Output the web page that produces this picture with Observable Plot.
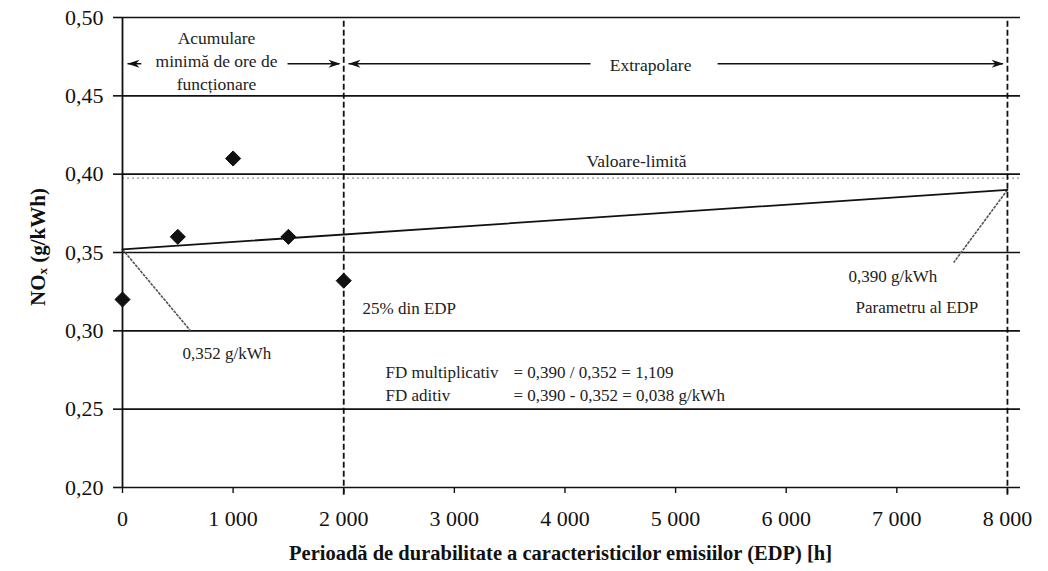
<!DOCTYPE html>
<html>
<head>
<meta charset="utf-8">
<script src="https://cdn.jsdelivr.net/npm/d3@7"></script>
<script src="https://cdn.jsdelivr.net/npm/@observablehq/plot@0.6"></script>
<style>
  html, body { margin: 0; padding: 0; background: #fff; }
  #chart svg { display: block; }
</style>
</head>
<body>
<div id="chart"></div>
<script>
// ---- data ----
const hours = [0, 500, 1000, 1500, 2000];
const nox = [0.32, 0.36, 0.41, 0.36, 0.332];
const fitHours = [0, 8000];
const fitNox = [0.352, 0.390];
const limitValue = 0.3975;
const markerHours = [2000, 8000];
const yTicks = [0.20, 0.25, 0.30, 0.35, 0.40, 0.45, 0.50];
const xTicks = [0, 1000, 2000, 3000, 4000, 5000, 6000, 7000, 8000];
const xTitle = "Perioadă de durabilitate a caracteristicilor emisiilor (EDP) [h]";

// annotation texts (data coordinates)
const notes = [
  {x: 850, y: 0.4732, text: "Acumulare\nminimă de ore de\nfuncționare", anchor: "middle"},
  {x: 4774, y: 0.4705, text: "Extrapolare", anchor: "middle"},
  {x: 4647, y: 0.4094, text: "Valoare-limită", anchor: "middle"},
  {x: 2170, y: 0.3143, text: "25% din EDP", anchor: "start"},
  {x: 542, y: 0.2855, text: "0,352 g/kWh", anchor: "start"},
  {x: 6564, y: 0.3347, text: "0,390 g/kWh", anchor: "start"},
  {x: 6627, y: 0.3149, text: "Parametru al EDP", anchor: "start"},
  {x: 2378, y: 0.2734, text: "FD multiplicativ", anchor: "start"},
  {x: 3535, y: 0.2734, text: "= 0,390 / 0,352 = 1,109", anchor: "start"},
  {x: 2378, y: 0.2587, text: "FD aditiv", anchor: "start"},
  {x: 3535, y: 0.2587, text: "= 0,390 - 0,352 = 0,038 g/kWh", anchor: "start"}
];
// arrow shafts and heads
const shafts = [
  {x1: 45, x2: 170, y: 0.4705},
  {x1: 1492, x2: 1960, y: 0.4705},
  {x1: 2043, x2: 4231, y: 0.4705},
  {x1: 5380, x2: 7960, y: 0.4705}
];
const headsRight = [{x: 1971, y: 0.4705}, {x: 7966, y: 0.4705}];
const headsLeft = [{x: 45, y: 0.4705}, {x: 2043, y: 0.4705}];
const leaders = [
  {x1: 0, y1: 0.352, x2: 615, y2: 0.30},
  {x1: 8000, y1: 0.390, x2: 7514, y2: 0.3436}
];

const points = hours.map((h, i) => ({h, v: nox[i]}));
const fit = fitHours.map((h, i) => ({h, v: fitNox[i]}));

const arrowRight = {draw(ctx, size) {
  const s = Math.sqrt(size / Math.PI);
  ctx.moveTo(0, 0); ctx.lineTo(-2.4 * s, -0.8 * s); ctx.lineTo(-1.7 * s, 0); ctx.lineTo(-2.4 * s, 0.8 * s); ctx.closePath();
}};
const arrowLeft = {draw(ctx, size) {
  const s = Math.sqrt(size / Math.PI);
  ctx.moveTo(0, 0); ctx.lineTo(2.4 * s, -0.8 * s); ctx.lineTo(1.7 * s, 0); ctx.lineTo(2.4 * s, 0.8 * s); ctx.closePath();
}};

const FONT = "Liberation Serif, DejaVu Serif, serif";
const fmtY = d => d3.format(".2f")(d).replace(".", ",");
const fmtX = d => d === 0 ? "0" : d3.format(",")(d).replace(",", "\u00a0");

const chart = Plot.plot({
  width: 1048,
  height: 571,
  marginLeft: 122,
  marginRight: 28,
  marginTop: 17,
  marginBottom: 84,
  style: {fontFamily: FONT, fontSize: "17px", color: "#111", background: "#fff"},
  x: {domain: [0, 8118]},
  y: {domain: [0.2, 0.5]},
  marks: [
    Plot.ruleY(yTicks, {stroke: "#111", strokeWidth: 1.6}),
    Plot.ruleY([limitValue], {stroke: "#999", strokeWidth: 1.2, strokeDasharray: "2,3"}),
    Plot.ruleX([0], {y1: 0.2, y2: 0.5, stroke: "#111", strokeWidth: 1.8}),
    Plot.ruleX(markerHours, {y1: 0.195, y2: 0.5, stroke: "#111", strokeWidth: 1.8, strokeDasharray: "6,3"}),
    Plot.axisY({ticks: yTicks, tickSize: 9, tickPadding: 10, tickFormat: fmtY, fontSize: 22, label: null, strokeWidth: 1.6}),
    Plot.axisX({ticks: xTicks, tickSize: 6, tickPadding: 17, tickFormat: fmtX, fontSize: 22, label: null, strokeWidth: 1.4}),
    Plot.link(leaders, {x1: "x1", y1: "y1", x2: "x2", y2: "y2", stroke: "#555", strokeWidth: 1.6, strokeDasharray: "3,1"}),
    Plot.line(fit, {x: "h", y: "v", stroke: "#111", strokeWidth: 1.8}),
    Plot.dot(points, {x: "h", y: "v", symbol: "diamond2", r: 6.8, fill: "#111", stroke: "#111", strokeWidth: 1}),
    Plot.link(shafts, {x1: "x1", x2: "x2", y1: "y", y2: "y", stroke: "#111", strokeWidth: 1.5}),
    Plot.dot(headsRight, {x: "x", y: "y", symbol: arrowRight, r: 5, fill: "#111", stroke: "none"}),
    Plot.dot(headsLeft, {x: "x", y: "y", symbol: arrowLeft, r: 5, fill: "#111", stroke: "none"}),
    Plot.text(notes.filter(d => d.anchor === "middle"), {x: "x", y: "y", text: "text", textAnchor: "middle", lineAnchor: "middle", lineHeight: 1.3, fontSize: 17.5, fill: "#222"}),
    Plot.text(notes.filter(d => d.anchor === "start"), {x: "x", y: "y", text: "text", textAnchor: "start", lineAnchor: "middle", fontSize: 17, fill: "#222"}),
    Plot.text([xTitle], {frameAnchor: "bottom", dx: -11, dy: 66, lineAnchor: "middle", fontSize: 20.5, fontWeight: "bold", fill: "#111"})
  ]
});

const svg = d3.select(chart);
const yt = svg.append("text")
  .attr("transform", "translate(40,247) rotate(-90)")
  .attr("text-anchor", "middle")
  .attr("dominant-baseline", "middle")
  .attr("font-size", 21)
  .attr("font-weight", "bold")
  .attr("fill", "#111");
yt.append("tspan").text("NO");
yt.append("tspan").attr("font-size", 13).attr("dy", 4).text("x");
yt.append("tspan").attr("dy", -4).text(" (g/kWh)");

document.getElementById("chart").appendChild(chart);
</script>
</body>
</html>
